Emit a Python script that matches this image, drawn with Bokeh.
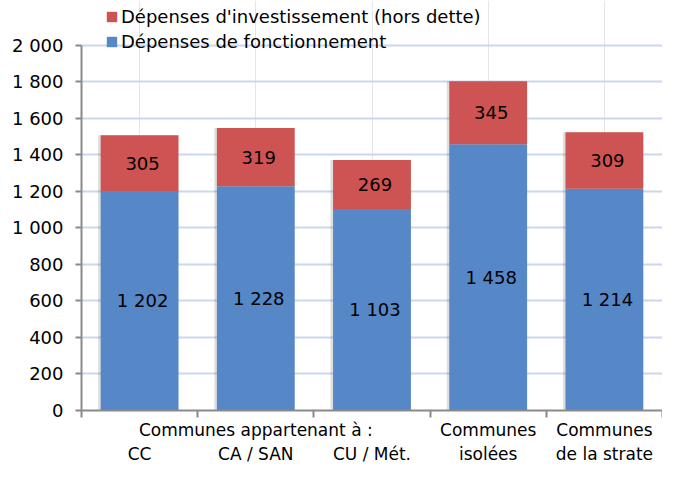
from bokeh.plotting import figure
from bokeh.models import (ColumnDataSource, Range1d, FixedTicker, Legend, LegendItem,
                          LabelSet, LinearAxis)
from bokeh.core.properties import value
from bokeh.transform import dodge
from bokeh.embed import file_html
from bokeh.resources import INLINE

# ---- data ----
categories = ["CC", "CA / SAN", "CU / Mét.", "Communes isolées", "Communes de la strate"]
label_line1 = {1: "Communes appartenant à :", 3: "Communes", 4: "Communes"}
label_line2 = ["CC", "CA / SAN", "CU / Mét.", "isolées", "de la strate"]
fonctionnement = [1202, 1228, 1103, 1458, 1214]
investissement = [305, 319, 269, 345, 309]
series_names = ["Dépenses d'investissement (hors dette)", "Dépenses de fonctionnement"]
y_ticks = [0, 200, 400, 600, 800, 1000, 1200, 1400, 1600, 1800, 2000]
y_tick_labels = ["0", "200", "400", "600", "800", "1 000", "1 200", "1 400", "1 600", "1 800", "2 000"]

BLUE = "#5687c7"
RED = "#cd5452"
AXIS = "#8a8a8a"
FONT = "DejaVu Sans"

xs = list(range(len(categories)))
fmt = lambda v: f"{v:,}".replace(",", " ")
tops = [f + i for f, i in zip(fonctionnement, investissement)]

src = ColumnDataSource(dict(
    x=xs, cat=categories, fonct=fonctionnement, inv=investissement, top=tops,
    fonct_mid=[f / 2 for f in fonctionnement],
    inv_mid=[f + i / 2 for f, i in zip(fonctionnement, investissement)],
    fonct_txt=[fmt(v) for v in fonctionnement],
    inv_txt=[fmt(v) for v in investissement],
))

# the frame reaches the top of the figure so the legend can sit above the 2 000 line;
# the axis itself is bounded to 0..2 000
p = figure(width=662, height=466, output_backend="svg", toolbar_location=None,
           x_range=Range1d(-0.5, len(categories) - 0.5), y_range=Range1d(0, 2245),
           x_axis_location=None,
           min_border_left=81, min_border_right=0, min_border_top=0, min_border_bottom=52)
p.outline_line_color = None
p.background_fill_color = "white"

# soft drop shadow behind the bars
p.vbar(x=dodge("x", -0.022, range=p.x_range), top="top", bottom=0, width=0.67, source=src,
       fill_color="#000000", fill_alpha=0.13, line_color=None)

r_blue = p.vbar(x="x", bottom=0, top="fonct", width=0.67, source=src,
                fill_color=BLUE, line_color=None)
r_red = p.vbar(x="x", bottom="fonct", top="top", width=0.67, source=src,
               fill_color=RED, line_color=None)

for col_y, col_t in (("fonct_mid", "fonct_txt"), ("inv_mid", "inv_txt")):
    p.add_layout(LabelSet(x="x", y=col_y, text=col_t, source=src, text_align="center",
                          text_baseline="middle", text_font=value(FONT),
                          text_font_size=value("18px"), text_color="black", x_offset=3))

# y axis
p.yaxis.bounds = (y_ticks[0], y_ticks[-1])
p.yaxis.ticker = FixedTicker(ticks=y_ticks)
p.yaxis.major_label_overrides = {t: l for t, l in zip(y_ticks, y_tick_labels)}
p.yaxis.major_label_text_font = FONT
p.yaxis.major_label_text_font_size = "18px"
p.yaxis.major_label_text_color = "black"
p.yaxis.axis_line_color = AXIS
p.yaxis.axis_line_width = 2
p.yaxis.major_tick_line_color = AXIS
p.yaxis.major_tick_line_width = 2
p.yaxis.major_tick_out = 6
p.yaxis.major_tick_in = 0
p.yaxis.minor_tick_line_color = None
p.yaxis.major_label_standoff = 12

# x axis: first row (axis line, boundary ticks, group label / first word)
bounds = [x - 0.5 for x in xs] + [xs[-1] + 0.5]
ax1 = LinearAxis(ticker=FixedTicker(ticks=list(label_line1.keys()), minor_ticks=bounds),
                 major_label_overrides=label_line1,
                 major_label_text_font=FONT, major_label_text_font_size="17px",
                 major_label_text_color="black", major_label_standoff=2,
                 axis_line_color=AXIS, axis_line_width=2,
                 major_tick_line_color=None, major_tick_out=7, major_tick_in=0,
                 minor_tick_line_color=AXIS, minor_tick_line_width=2,
                 minor_tick_out=7, minor_tick_in=0)
# x axis: second row (category names)
ax2 = LinearAxis(ticker=FixedTicker(ticks=xs, minor_ticks=[]),
                 major_label_overrides={x: l for x, l in zip(xs, label_line2)},
                 major_label_text_font=FONT, major_label_text_font_size="17px",
                 major_label_text_color="black", major_label_standoff=1,
                 axis_line_color=None, major_tick_line_color=None,
                 major_tick_out=0, major_tick_in=0, minor_tick_line_color=None)
p.add_layout(ax1, "below")
p.add_layout(ax2, "below")

p.ygrid.grid_line_color = "#c9d8ee"
p.ygrid.grid_line_width = 2

legend = Legend(items=[LegendItem(label=series_names[0], renderers=[r_red]),
                       LegendItem(label=series_names[1], renderers=[r_blue])],
                location=(24, 358), background_fill_alpha=0, border_line_color=None,
                label_text_font=FONT, label_text_font_size="18px",
                label_text_color="black",
                glyph_width=13, glyph_height=13, label_standoff=3, spacing=3,
                padding=0, margin=0, label_height=22)
p.add_layout(legend, "center")

open("out.html", "w").write(file_html(p, INLINE))
